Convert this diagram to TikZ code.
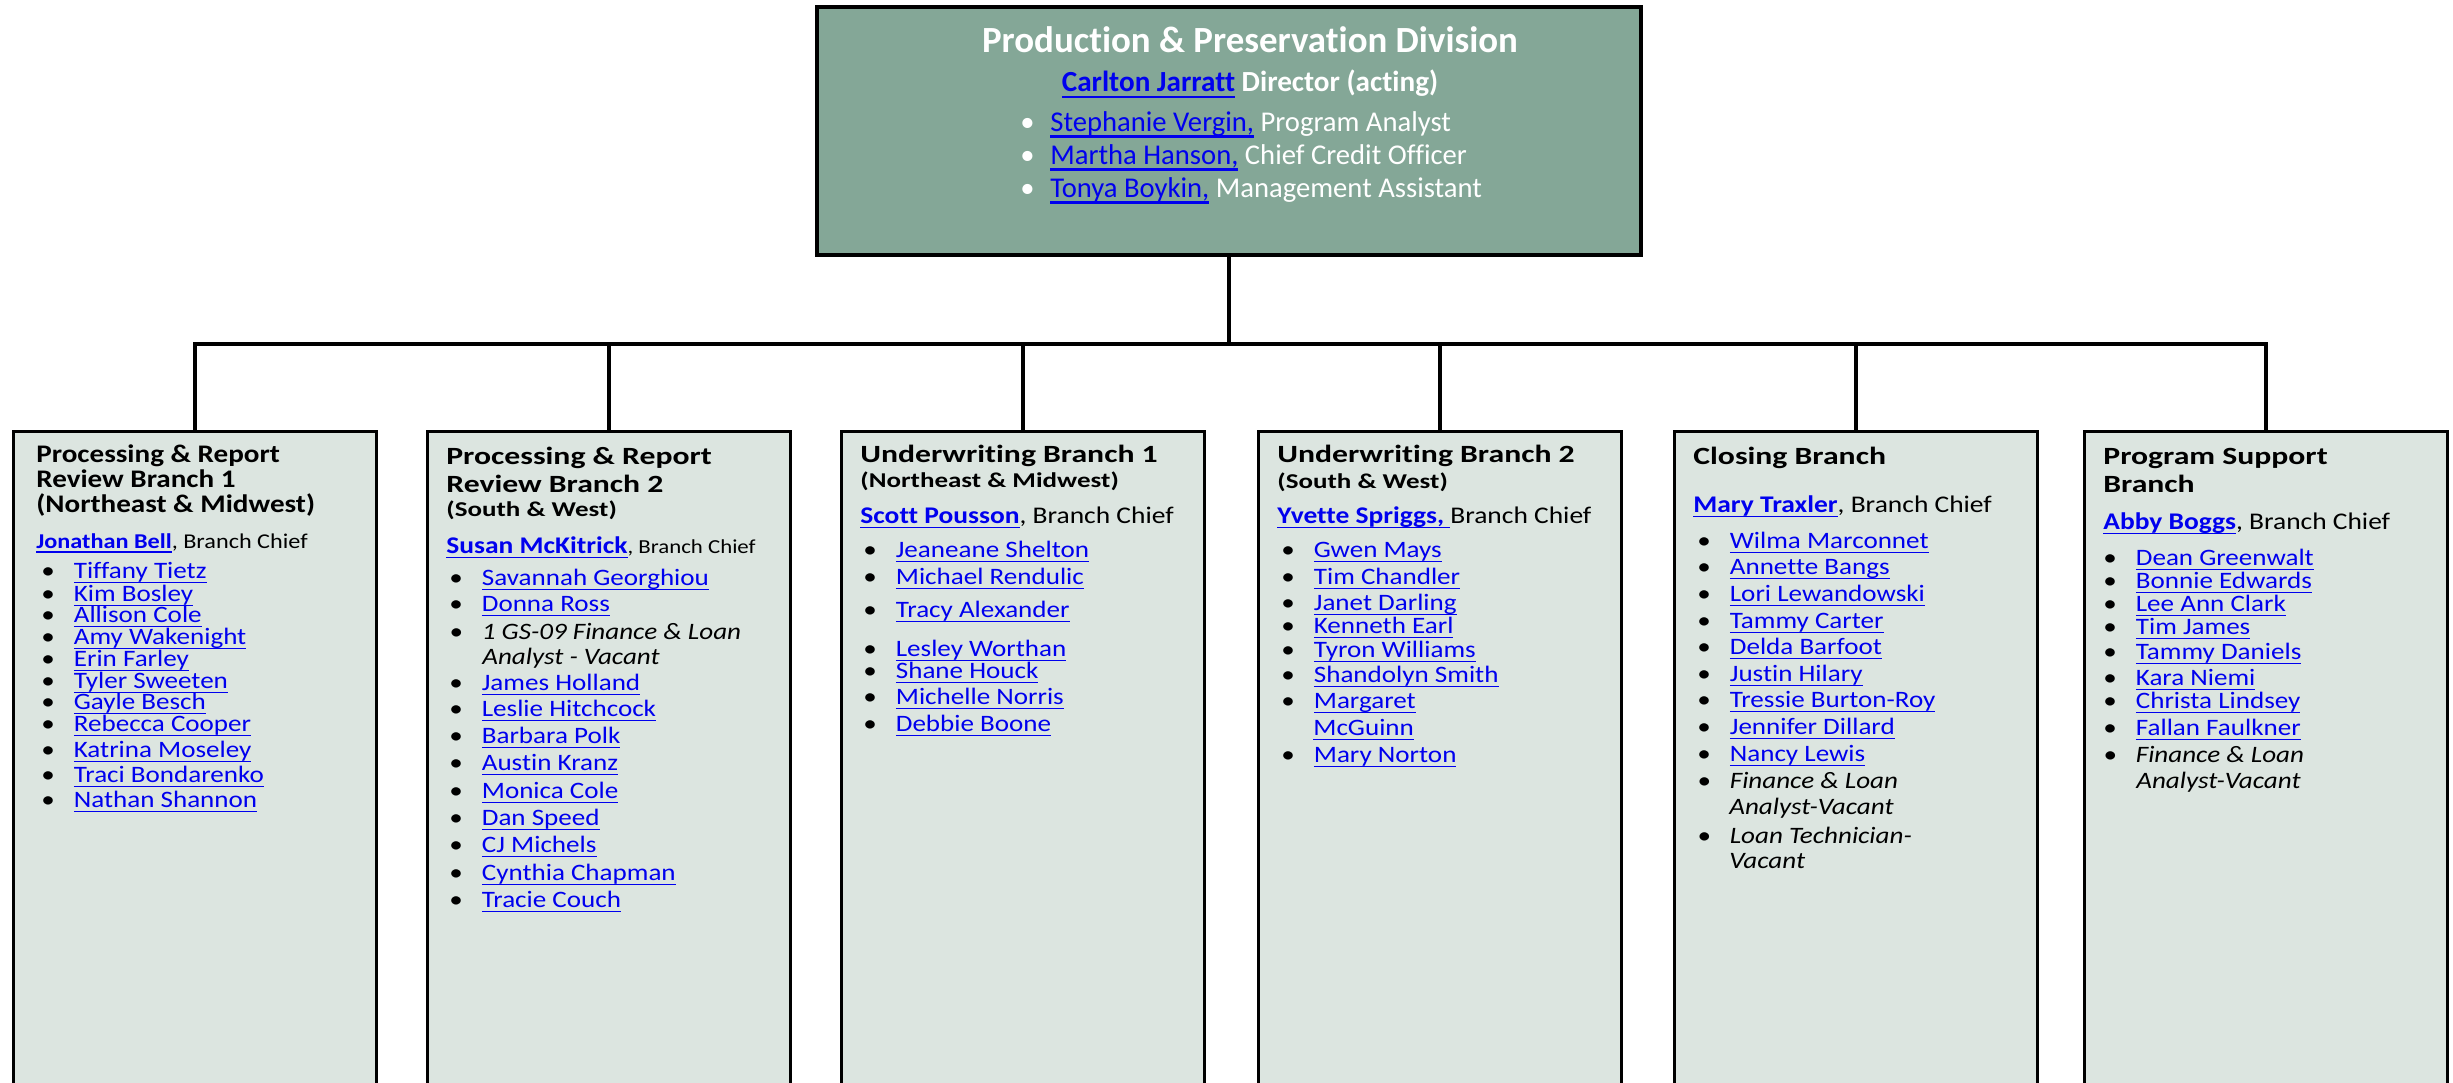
\documentclass[tikz,border=0pt]{standalone}
\usepackage{fontspec}
\setmainfont{Carlito}[Ligatures=NoCommon]
\newfontfamily\brfont[FakeStretch=1.15, Ligatures=NoCommon]{Carlito}
\newfontfamily\hdfont[FakeStretch=1.28, Ligatures=NoCommon]{Carlito}
\usepackage{tikz}
\definecolor{divgreen}{RGB}{132,167,151}
\definecolor{branchgrey}{RGB}{220,229,224}
\definecolor{linkblue}{RGB}{0,0,238}
\newcommand\lnk[1]{\textcolor{linkblue}{\setbox0\hbox{#1}\rlap{\rule[-0.48ex]{\wd0}{0.16ex}}\box0}}

\tikzset{
	divbox/.style={draw=black, line width=2.2pt, fill=divgreen, minimum width=16.48cm, minimum height=4.96cm, inner sep=0pt},
	branchbox/.style={draw=black, line width=1.9pt, fill=branchgrey, anchor=north, minimum width=7.26cm, minimum height=14cm, inner sep=0pt},
	link/.style={line width=1.8pt},
	txt/.style={anchor=base west, inner sep=0pt},
	divtitle/.style={anchor=base, inner sep=0pt, text=white, font=\bfseries\fontsize{21}{25}\selectfont},
	divhead/.style={anchor=base, inner sep=0pt, text=white, font=\bfseries\fontsize{16.6}{19}\selectfont},
	divstaff/.style={txt, text=white, font=\fontsize{16.3}{19}\selectfont, execute at begin node={\makebox[0.6cm][l]{\textbullet}}},
	brhead/.style={txt, font=\hdfont\bfseries\fontsize{14.1}{17}\selectfont},
	brsub/.style={txt, font=\hdfont\bfseries\fontsize{12}{15}\selectfont},
	brchief/.style={txt, font=\brfont\fontsize{13.6}{16}\selectfont},
	staff/.style={txt, font=\brfont\fontsize{13.4}{16}\selectfont, execute at begin node={\makebox[0.65cm][l]{\textbullet}}},
	vacant/.style={staff, font=\brfont\itshape\fontsize{13.4}{16}\selectfont},
	wrap/.style={txt, font=\brfont\fontsize{13.4}{16}\selectfont},
	vwrap/.style={txt, font=\brfont\itshape\fontsize{13.4}{16}\selectfont},
}

\begin{document}
\begin{tikzpicture}[x=0.02cm, y=-0.02cm]
	\useasboundingbox (0,0) rectangle (2453,1082);
	\clip (0,0) rectangle (2453,1082);

	% division
	\node[divbox] (div) at (1229,131) {};
	\node[divtitle] (divt) at (1250,52) {Production \& Preservation Division};
	\node[divhead] (divd) at (1250,91) {\lnk{Carlton Jarratt} Director (acting)};
	\node[divstaff] (divs1) at (1020,131) {\lnk{Stephanie Vergin,} Program Analyst};
	\node[divstaff] (divs2) at (1020,164) {\lnk{Martha Hanson,} Chief Credit Officer};
	\node[divstaff] (divs3) at (1020,197) {\lnk{Tonya Boykin,} Management Assistant};

	% branches
	\node[branchbox] (b1) at (195,430) {};
	\node[branchbox] (b2) at (609,430) {};
	\node[branchbox] (b3) at (1023,430) {};
	\node[branchbox] (b4) at (1440,430) {};
	\node[branchbox] (b5) at (1856,430) {};
	\node[branchbox] (b6) at (2266,430) {};

	\coordinate (bus) at (div.south |- 0,344);
	\draw[link] (div.south) -- (bus);
	\draw[link] (b1.north) |- (b6.north |- bus) -- (b6.north);
	\draw[link] (b2.north) -- (b2.north |- bus);
	\draw[link] (b3.north) -- (b3.north |- bus);
	\draw[link] (b4.north) -- (b4.north |- bus);
	\draw[link] (b5.north) -- (b5.north |- bus);

	% processing & report review 1
	\node[brhead, font=\brfont\bfseries\fontsize{14.4}{17}\selectfont] (b1h1) at (36,462) {Processing \& Report};
	\node[brhead, font=\brfont\bfseries\fontsize{14.4}{17}\selectfont] (b1h2) at (36,487) {Review Branch 1};
	\node[brhead, font=\brfont\bfseries\fontsize{14.4}{17}\selectfont] (b1h3) at (36,512) {(Northeast \& Midwest)};
	\node[brchief, font=\brfont\fontsize{12}{14}\selectfont] (b1c) at (36,548) {\lnk{\bfseries Jonathan Bell}, Branch Chief};
	\node[staff] (b1s1) at (41,578) {\lnk{Tiffany Tietz}};
	\node[staff] (b1s2) at (41,601) {\lnk{Kim Bosley}};
	\node[staff] (b1s3) at (41,622) {\lnk{Allison Cole}};
	\node[staff] (b1s4) at (41,644) {\lnk{Amy Wakenight}};
	\node[staff] (b1s5) at (41,666) {\lnk{Erin Farley}};
	\node[staff] (b1s6) at (41,688) {\lnk{Tyler Sweeten}};
	\node[staff] (b1s7) at (41,709) {\lnk{Gayle Besch}};
	\node[staff] (b1s8) at (41,731) {\lnk{Rebecca Cooper}};
	\node[staff] (b1s9) at (41,757) {\lnk{Katrina Moseley}};
	\node[staff] (b1s10) at (41,782) {\lnk{Traci Bondarenko}};
	\node[staff] (b1s11) at (41,807) {\lnk{Nathan Shannon}};

	% processing & report review 2
	\node[brhead] (b2h1) at (446,464) {Processing \& Report};
	\node[brhead] (b2h2) at (446,492) {Review Branch 2};
	\node[brsub] (b2h3) at (446,516) {(South \& West)};
	\node[brchief] (b2c) at (446,553) {\lnk{\bfseries Susan McKitrick}{\fontsize{11.3}{14}\selectfont, Branch Chief}};
	\node[staff] (b2s1) at (449,585) {\lnk{Savannah Georghiou}};
	\node[staff] (b2s2) at (449,611) {\lnk{Donna Ross}};
	\node[vacant] (b2s3) at (449,639) {1 GS-09 Finance \& Loan};
	\node[vwrap] (b2s3b) at (482,664) {Analyst - Vacant};
	\node[staff] (b2s4) at (449,690) {\lnk{James Holland}};
	\node[staff] (b2s5) at (449,716) {\lnk{Leslie Hitchcock}};
	\node[staff] (b2s6) at (449,743) {\lnk{Barbara Polk}};
	\node[staff] (b2s7) at (449,770) {\lnk{Austin Kranz}};
	\node[staff] (b2s8) at (449,798) {\lnk{Monica Cole}};
	\node[staff] (b2s9) at (449,825) {\lnk{Dan Speed}};
	\node[staff] (b2s10) at (449,852) {\lnk{CJ Michels}};
	\node[staff] (b2s11) at (449,880) {\lnk{Cynthia Chapman}};
	\node[staff] (b2s12) at (449,907) {\lnk{Tracie Couch}};

	% underwriting 1
	\node[brhead] (b3h1) at (860,462) {Underwriting Branch 1};
	\node[brsub] (b3h2) at (860,487) {(Northeast \& Midwest)};
	\node[brchief] (b3c) at (860,523) {\lnk{\bfseries Scott Pousson}, Branch Chief};
	\node[staff] (b3s1) at (863,557) {\lnk{Jeaneane Shelton}};
	\node[staff] (b3s2) at (863,584) {\lnk{Michael Rendulic}};
	\node[staff] (b3s3) at (863,617) {\lnk{Tracy Alexander}};
	\node[staff] (b3s4) at (863,656) {\lnk{Lesley Worthan}};
	\node[staff] (b3s5) at (863,678) {\lnk{Shane Houck}};
	\node[staff] (b3s6) at (863,704) {\lnk{Michelle Norris}};
	\node[staff] (b3s7) at (863,731) {\lnk{Debbie Boone}};

	% underwriting 2
	\node[brhead] (b4h1) at (1277,462) {Underwriting Branch 2};
	\node[brsub] (b4h2) at (1277,488) {(South \& West)};
	\node[brchief] (b4c) at (1277,523) {\lnk{\bfseries Yvette Spriggs,~}Branch Chief};
	\node[staff] (b4s1) at (1281,557) {\lnk{Gwen Mays}};
	\node[staff] (b4s2) at (1281,584) {\lnk{Tim Chandler}};
	\node[staff] (b4s3) at (1281,610) {\lnk{Janet Darling}};
	\node[staff] (b4s4) at (1281,633) {\lnk{Kenneth Earl}};
	\node[staff] (b4s5) at (1281,657) {\lnk{Tyron Williams}};
	\node[staff] (b4s6) at (1281,682) {\lnk{Shandolyn Smith}};
	\node[staff] (b4s7) at (1281,708) {\lnk{Margaret}};
	\node[wrap] (b4s7b) at (1313,735) {\lnk{McGuinn}};
	\node[staff] (b4s8) at (1281,762) {\lnk{Mary Norton}};

	% closing
	\node[brhead] (b5h1) at (1693,464) {Closing Branch};
	\node[brchief] (b5c) at (1693,512) {\lnk{\bfseries Mary Traxler}, Branch Chief};
	\node[staff] (b5s1) at (1697,548) {\lnk{Wilma Marconnet}};
	\node[staff] (b5s2) at (1697,574) {\lnk{Annette Bangs}};
	\node[staff] (b5s3) at (1697,601) {\lnk{Lori Lewandowski}};
	\node[staff] (b5s4) at (1697,628) {\lnk{Tammy Carter}};
	\node[staff] (b5s5) at (1697,654) {\lnk{Delda Barfoot}};
	\node[staff] (b5s6) at (1697,681) {\lnk{Justin Hilary}};
	\node[staff] (b5s7) at (1697,707) {\lnk{Tressie Burton-Roy}};
	\node[staff] (b5s8) at (1697,734) {\lnk{Jennifer Dillard}};
	\node[staff] (b5s9) at (1697,761) {\lnk{Nancy Lewis}};
	\node[vacant] (b5s10) at (1697,788) {Finance \& Loan};
	\node[vwrap] (b5s10b) at (1729,814) {Analyst-Vacant};
	\node[vacant] (b5s11) at (1697,843) {Loan Technician-};
	\node[vwrap] (b5s11b) at (1729,868) {Vacant};

	% program support
	\node[brhead] (b6h1) at (2103,464) {Program Support};
	\node[brhead] (b6h2) at (2103,492) {Branch};
	\node[brchief] (b6c) at (2103,529) {\lnk{\bfseries Abby Boggs}, Branch Chief};
	\node[staff] (b6s1) at (2103,565) {\lnk{Dean Greenwalt}};
	\node[staff] (b6s2) at (2103,588) {\lnk{Bonnie Edwards}};
	\node[staff] (b6s3) at (2103,611) {\lnk{Lee Ann Clark}};
	\node[staff] (b6s4) at (2103,634) {\lnk{Tim James}};
	\node[staff] (b6s5) at (2103,659) {\lnk{Tammy Daniels}};
	\node[staff] (b6s6) at (2103,685) {\lnk{Kara Niemi}};
	\node[staff] (b6s7) at (2103,708) {\lnk{Christa Lindsey}};
	\node[staff] (b6s8) at (2103,735) {\lnk{Fallan Faulkner}};
	\node[vacant] (b6s9) at (2103,762) {Finance \& Loan};
	\node[vwrap] (b6s9b) at (2136,788) {Analyst-Vacant};
\end{tikzpicture}
\end{document}
